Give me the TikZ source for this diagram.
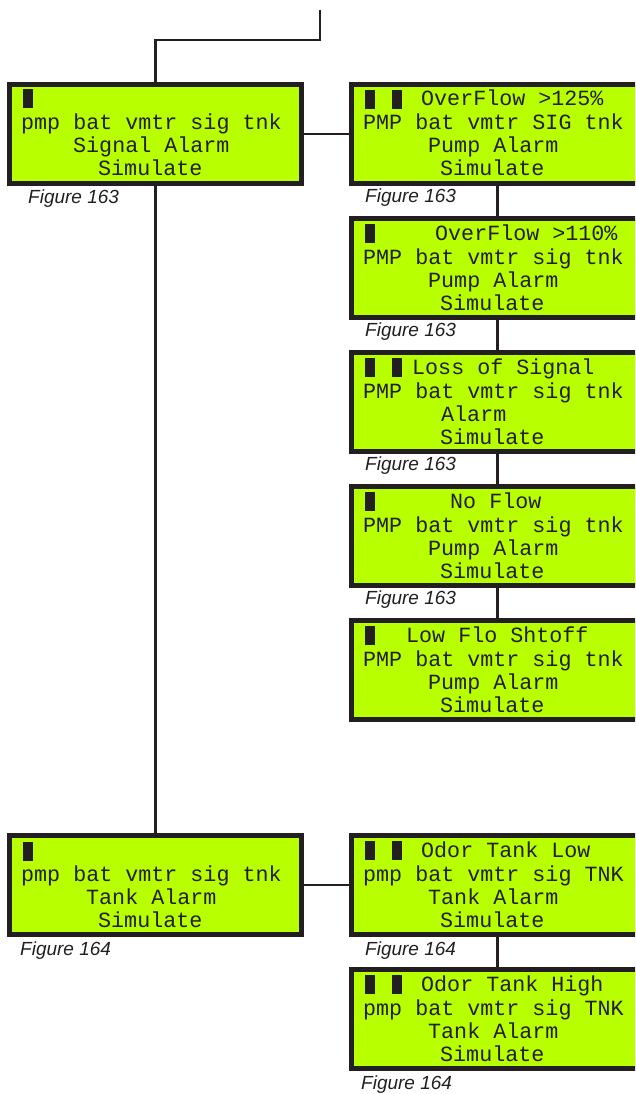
\documentclass[tikz,border=0pt]{standalone}
\usepackage{fontspec}
\setmainfont{Liberation Sans}
\newfontfamily\lcdfont{Liberation Mono}
\definecolor{lcdgreen}{RGB}{184,255,0}
\definecolor{ink}{RGB}{35,31,32}
\begin{document}
\begin{tikzpicture}[x=1pt,y=-1pt,
  lcd/.style={rectangle, draw=ink, fill=lcdgreen, line width=5pt, minimum width=292pt, minimum height=99pt, inner sep=0pt, outer sep=0pt, anchor=north west},
  lt/.style={font=\lcdfont\fontsize{21.7}{22}\selectfont, text=ink, inner sep=0pt, anchor=base west},
  cur/.style={rectangle, fill=ink, minimum width=10pt, minimum height=19pt, inner sep=0pt, outer sep=0pt, anchor=north west},
  fig/.style={font=\itshape\fontsize{19}{21}\selectfont, text=ink, inner sep=0pt, anchor=base west},
  wire/.style={draw=ink, line width=2.5pt}]
\path[use as bounding box, clip] (0,0) rectangle (635,1094);

% boxes
\node[lcd] (L1) at (9.5,84.5) {};
\node[lcd] (R1) at (351.5,84.5) {};
\node[lcd] (R2) at (351.5,218.5) {};
\node[lcd] (R3) at (351.5,352.5) {};
\node[lcd] (R4) at (351.5,486.5) {};
\node[lcd] (R5) at (351.5,620.5) {};
\node[lcd] (L2) at (9.5,835.5) {};
\node[lcd] (R6) at (351.5,835.5) {};
\node[lcd] (R7) at (351.5,969.5) {};

% connectors
\coordinate (top) at (320,10);
\coordinate (bend) at (320,40);
\draw[wire] (top) -- (bend) -| (L1.north);
\draw[wire] (L1.south) -- (L2.north);
\draw[wire] (L1.east) -- (R1.west);
\draw[wire] (R1.south) -- (R2.north);
\draw[wire] (R2.south) -- (R3.north);
\draw[wire] (R3.south) -- (R4.north);
\draw[wire] (R4.south) -- (R5.north);
\draw[wire] (L2.east) -- (R6.west);
\draw[wire] (R6.south) -- (R7.north);

% L1
\node[cur] (L1c1) at (23,89) {};
\node[lt] (L1r2) at (21,130) {pmp bat vmtr sig tnk};
\node[lt] (L1r3) at (73,153) {Signal Alarm};
\node[lt] (L1r4) at (98,176) {Simulate};
% R1
\node[cur] (R1c1) at (365,90) {};
\node[cur] (R1c2) at (392,90) {};
\node[lt] (R1r1) at (421,106) {OverFlow >125\%};
\node[lt] (R1r2) at (363,130) {PMP bat vmtr SIG tnk};
\node[lt] (R1r3) at (428,153) {Pump Alarm};
\node[lt] (R1r4) at (440,176) {Simulate};
% R2
\node[cur] (R2c1) at (365,224) {};
\node[lt] (R2r1) at (435,240) {OverFlow >110\%};
\node[lt] (R2r2) at (363,264) {PMP bat vmtr sig tnk};
\node[lt] (R2r3) at (428,287) {Pump Alarm};
\node[lt] (R2r4) at (440,310) {Simulate};
% R3
\node[cur] (R3c1) at (365,358) {};
\node[cur] (R3c2) at (392,358) {};
\node[lt] (R3r1) at (412,374) {Loss of Signal};
\node[lt] (R3r2) at (363,398) {PMP bat vmtr sig tnk};
\node[lt] (R3r3) at (441,421) {Alarm};
\node[lt] (R3r4) at (440,444) {Simulate};
% R4
\node[cur] (R4c1) at (365,492) {};
\node[lt] (R4r1) at (450,508) {No Flow};
\node[lt] (R4r2) at (363,532) {PMP bat vmtr sig tnk};
\node[lt] (R4r3) at (428,555) {Pump Alarm};
\node[lt] (R4r4) at (440,578) {Simulate};
% R5
\node[cur] (R5c1) at (365,626) {};
\node[lt] (R5r1) at (406,642) {Low Flo Shtoff};
\node[lt] (R5r2) at (363,666) {PMP bat vmtr sig tnk};
\node[lt] (R5r3) at (428,689) {Pump Alarm};
\node[lt] (R5r4) at (440,712) {Simulate};
% L2
\node[cur] (L2c1) at (23,842) {};
\node[lt] (L2r2) at (21,881) {pmp bat vmtr sig tnk};
\node[lt] (L2r3) at (86,904) {Tank Alarm};
\node[lt] (L2r4) at (98,927) {Simulate};
% R6
\node[cur] (R6c1) at (365,841) {};
\node[cur] (R6c2) at (392,841) {};
\node[lt] (R6r1) at (421,857) {Odor Tank Low};
\node[lt] (R6r2) at (363,881) {pmp bat vmtr sig TNK};
\node[lt] (R6r3) at (428,904) {Tank Alarm};
\node[lt] (R6r4) at (440,927) {Simulate};
% R7
\node[cur] (R7c1) at (365,975) {};
\node[cur] (R7c2) at (392,975) {};
\node[lt] (R7r1) at (421,991) {Odor Tank High};
\node[lt] (R7r2) at (363,1015) {pmp bat vmtr sig TNK};
\node[lt] (R7r3) at (428,1038) {Tank Alarm};
\node[lt] (R7r4) at (440,1061) {Simulate};

% figure labels
\node[fig] (F1) at (28,204) {Figure 163};
\node[fig] (F2) at (365,202) {Figure 163};
\node[fig] (F3) at (365,336) {Figure 163};
\node[fig] (F4) at (365,470) {Figure 163};
\node[fig] (F5) at (365,604) {Figure 163};
\node[fig] (F6) at (20,955) {Figure 164};
\node[fig] (F7) at (365,955) {Figure 164};
\node[fig] (F8) at (361,1089) {Figure 164};
\end{tikzpicture}
\end{document}
